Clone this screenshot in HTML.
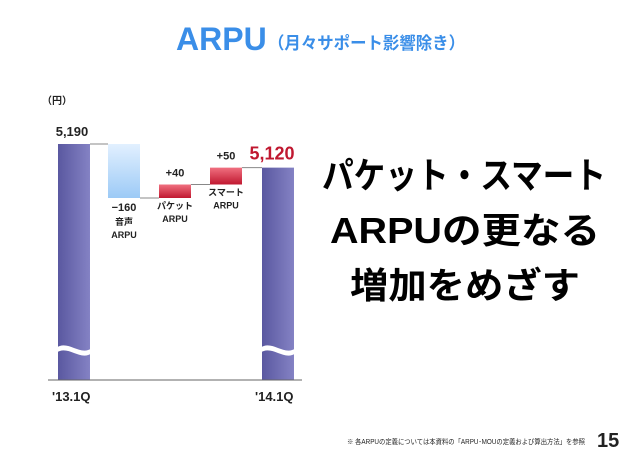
<!DOCTYPE html>
<html><head><meta charset="utf-8"><style>
body{margin:0;width:640px;height:455px;background:#fff;overflow:hidden;font-family:"Liberation Sans","Noto Sans CJK JP",sans-serif}
</style></head><body>
<svg width="640" height="455" xmlns="http://www.w3.org/2000/svg" font-family="Liberation Sans, Noto Sans CJK JP, sans-serif">
<defs>
<linearGradient id="gp" x1="0" x2="1"><stop offset="0" stop-color="#5a58a0"/><stop offset="1" stop-color="#8482c4"/></linearGradient>
<linearGradient id="gb" x1="0" y1="0" x2="0" y2="1"><stop offset="0" stop-color="#e2f0ff"/><stop offset="1" stop-color="#9ccaf6"/></linearGradient>
<linearGradient id="gr" x1="0" y1="0" x2="0" y2="1"><stop offset="0" stop-color="#f07080"/><stop offset="1" stop-color="#c01830"/></linearGradient>
</defs>
<text x="176" y="50" font-size="32" font-weight="bold" fill="#3a8ee8">ARPU</text>
<text x="268" y="49" font-size="17" font-weight="bold" fill="#3a8ee8" textLength="197" lengthAdjust="spacingAndGlyphs">（月々サポート影響除き）</text>
<text x="42" y="104" font-size="10" font-weight="bold" fill="#222">（円）</text>
<g id="chart"></g>
<line x1="48" y1="380" x2="302" y2="380" stroke="#666" stroke-width="1"/>
<text x="52" y="401" font-size="13" font-weight="bold" fill="#222">'13.1Q</text>
<text x="255" y="401" font-size="13" font-weight="bold" fill="#222">'14.1Q</text>
<g font-size="36" font-weight="bold" fill="#000" lengthAdjust="spacingAndGlyphs">
<text x="322" y="188" textLength="284" lengthAdjust="spacingAndGlyphs">パケット・スマート</text>
<text x="330" y="243" textLength="270" lengthAdjust="spacingAndGlyphs">ARPUの更なる</text>
<text x="350" y="298" textLength="230" lengthAdjust="spacingAndGlyphs">増加をめざす</text>
</g>
<text x="347" y="444" font-size="7" fill="#222" textLength="238" lengthAdjust="spacingAndGlyphs">※ 各ARPUの定義については本資料の「ARPU･MOUの定義および算出方法」を参照</text>
<text x="597" y="447" font-size="20" font-weight="bold" fill="#222">15</text>
</svg>
<script>
const categories=["'13.1Q","音声ARPU","パケットARPU","スマートARPU","'14.1Q"];
const deltas=[5190,-160,40,50,5120];
const valueLabels=["5,190","−160","+40","+50","5,120"];
const xs=[58,108,159,210,262], bw=32;
const base=5190, baseY=144, k=0.3375, axisY=380;
const y=v=>baseY+(base-v)*k;
const g=document.getElementById('chart');
const NS='http://www.w3.org/2000/svg';
function mk(t,a){const e=document.createElementNS(NS,t);for(const n in a)e.setAttribute(n,a[n]);g.appendChild(e);return e;}
let run=deltas[0];
const tops=[];
for(let i=0;i<5;i++){
  let r;
  if(i===0||i===4){
    const v=i===0?deltas[0]:deltas[4];
    r=mk('rect',{x:xs[i],y:y(v),width:bw,height:axisY-y(v),fill:'url(#gp)'});
    tops.push([y(v),y(v)]);
    const wy=348, x0=xs[i]-2, x1=xs[i]+bw+2;
    const w=mk('path',{d:`M${x0} ${wy} C${x0+12} ${wy-9} ${x0+24} ${wy+9} ${x1} ${wy} L${x1} ${wy+5} C${x0+24} ${wy+14} ${x0+12} ${wy-4} ${x0} ${wy+5} Z`,fill:'#fff'});
    
    
  } else {
    const a=run,b=run+deltas[i];run=b;
    const t=y(Math.max(a,b)),bt=y(Math.min(a,b));
    r=mk('rect',{x:xs[i],y:t,width:bw,height:bt-t,fill:deltas[i]<0?'url(#gb)':'url(#gr)'});
    tops.push([y(a),y(b)]);
  }
  
  
}
for(let i=0;i<4;i++){
  const l=mk('line',{x1:xs[i]+bw,x2:xs[i+1],y1:tops[i][1],y2:tops[i][1],stroke:'#888','stroke-width':1});
  
  
}
function txt(s,x,yy,sz,col,name){const t=mk('text',{x:x,y:yy,'font-size':sz,'font-weight':'bold',fill:col,'text-anchor':'middle'});t.textContent=s;}
txt(valueLabels[0],xs[0]+14,y(deltas[0])-8,13,'#222','value-label-0');
txt(valueLabels[1],xs[1]+16,y(deltas[0]+deltas[1])+13,11,'#222','value-label-1');
txt('音声',xs[1]+16,y(deltas[0]+deltas[1])+27,9,'#222','cat-label-1');
txt('ARPU',xs[1]+16,y(deltas[0]+deltas[1])+40,9,'#222','cat-label-1b');
let r2=deltas[0]+deltas[1];
txt(valueLabels[2],xs[2]+16,y(r2+deltas[2])-8,11,'#222','value-label-2');
txt('パケット',xs[2]+16,y(r2)+11,9,'#222','cat-label-2');
txt('ARPU',xs[2]+16,y(r2)+24,9,'#222','cat-label-2b');
let r3=r2+deltas[2];
txt(valueLabels[3],xs[3]+16,y(r3+deltas[3])-8,11,'#222','value-label-3');
txt('スマート',xs[3]+16,y(r3)+11,9,'#222','cat-label-3');
txt('ARPU',xs[3]+16,y(r3)+24,9,'#222','cat-label-3b');
txt(valueLabels[4],xs[4]+10,y(deltas[4])-8,18,'#c01830','value-label-4');
</script>
</body></html>
